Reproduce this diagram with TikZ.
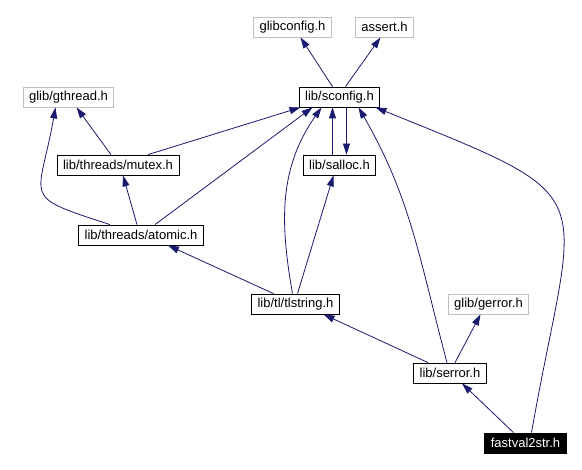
\documentclass[tikz,border=0pt]{standalone}
\usepackage{fontspec}
\setmainfont{Liberation Sans}
\usetikzlibrary{arrows.meta}
\definecolor{edgeblue}{HTML}{191970}
\definecolor{extgray}{HTML}{BFBFBF}

\begin{document}
\begin{tikzpicture}[
        x=1pt, y=-1pt,
        box/.style={draw, rectangle, minimum height=20pt, inner xsep=6pt, inner ysep=0pt, line width=0.8pt, font=\fontsize{13}{15}\selectfont},
        extbox/.style={box, draw=extgray},
        arrow/.style={-{Triangle[length=11pt, width=7pt]}, draw=edgeblue, line width=0.8pt}
    ]
\useasboundingbox (0,0) rectangle (582,470);

\node[extbox] (glibconfig) at (292.5, 27) {glibconfig.h};
        \node[extbox] (assert) at (384.5, 27) {assert.h};
        \node[box] (sconfig) at (339.5, 97) {lib/sconfig.h};
        \node[extbox] (gthread) at (68.5, 97) {glib/gthread.h};

        \node[box] (mutex) at (118, 165) {lib/threads/mutex.h};
        \node[box] (salloc) at (339.5, 165) {lib/salloc.h};
        \node[box] (atomic) at (141, 235) {lib/threads/atomic.h};

        \node[box] (tlstring) at (295.5, 304) {lib/tl/tlstring.h};
        \node[extbox] (gerror) at (488.5, 304) {glib/gerror.h};
        \node[box] (serror) at (450, 373) {lib/serror.h};
        \node[box, fill=black, text=white] (fastval) at (525.5, 443) {fastval2str.h};

\draw[arrow] ([xshift=-7pt]sconfig.north) -- ([xshift=8pt]glibconfig.south);
        \draw[arrow] ([xshift=6pt]sconfig.north) -- ([xshift=-4pt]assert.south);
        \draw[arrow] ([xshift=-7pt]mutex.north) -- ([xshift=8pt]gthread.south);
        \draw[arrow] ([xshift=30pt]mutex.north) -- ([xshift=-39pt]sconfig.south);
        \draw[arrow] ([xshift=-31pt]atomic.north) to[out=162, in=-100, looseness=1.9] ([xshift=-13pt]gthread.south);
        \draw[arrow] ([xshift=-4pt]atomic.north) -- ([xshift=5pt]mutex.south);
        \draw[arrow] ([xshift=14pt]atomic.north) -- ([xshift=-27pt]sconfig.south);
        \draw[arrow] ([xshift=-7pt]salloc.north) -- ([xshift=-7pt]sconfig.south);
        \draw[arrow] ([xshift=7pt]sconfig.south) -- ([xshift=7pt]salloc.north);
        \draw[arrow] ([xshift=-22pt]tlstring.north) -- ([xshift=27pt]atomic.south);
        \draw[arrow] ([xshift=-3pt]tlstring.north) to[out=100, in=-125] ([xshift=-18pt]sconfig.south);
        \draw[arrow] ([xshift=2pt]tlstring.north) -- ([xshift=-6pt]salloc.south);
        \draw[arrow] ([xshift=-3pt]serror.north) to[out=105, in=-60] ([xshift=19pt]sconfig.south);
        \draw[arrow] ([xshift=-22pt]serror.north) -- ([xshift=28pt]tlstring.south);
        \draw[arrow] ([xshift=5pt]serror.north) -- ([xshift=-8pt]gerror.south);
        \draw[arrow] ([xshift=-12pt]fastval.north) -- ([xshift=12pt]serror.south);
        \draw[arrow] ([xshift=6pt]fastval.north) to[out=80, in=-22, looseness=1.8] ([xshift=36pt]sconfig.south);

    \end{tikzpicture}
\end{document}
